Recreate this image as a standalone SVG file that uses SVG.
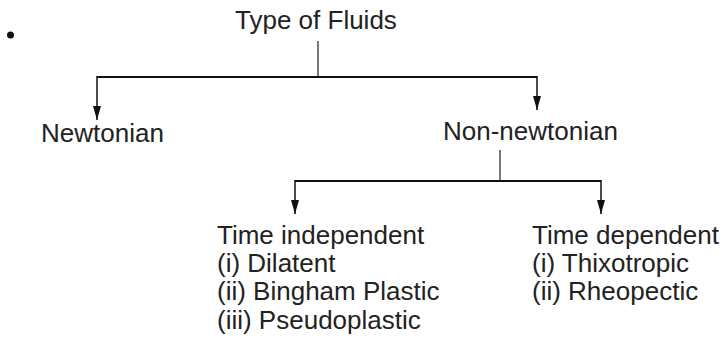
<svg xmlns="http://www.w3.org/2000/svg" width="728" height="345" viewBox="0 0 728 345">
<style>
.t{font-family:"Liberation Sans",Arial,sans-serif;font-size:26px;fill:#222}
.bar{stroke:#111;stroke-width:2;fill:none}
.stem{stroke:#333;stroke-width:1.3;fill:none}
.drop{stroke:#111;stroke-width:1.5;fill:none}
</style>
<defs>
<marker id="ah" viewBox="0 0 14 8" refX="14" refY="4" markerWidth="14" markerHeight="8" markerUnits="userSpaceOnUse" orient="auto">
<path d="M0,0 L14,4 L0,8 z" fill="#111"/>
</marker>
</defs>
<rect width="728" height="345" fill="#fff"/>
<circle cx="10.5" cy="35" r="3.5" fill="#111"/>
<g id="connectors">
<line class="stem" x1="318" y1="41" x2="318" y2="77"/>
<line class="bar" x1="97" y1="77" x2="537" y2="77"/>
<line class="drop" x1="97" y1="76" x2="97" y2="120" marker-end="url(#ah)"/>
<line class="drop" x1="537" y1="76" x2="537" y2="110" marker-end="url(#ah)"/>
<line class="stem" x1="500" y1="150" x2="500" y2="181"/>
<line class="bar" x1="295" y1="181" x2="601" y2="181"/>
<line class="drop" x1="295" y1="180" x2="295" y2="214" marker-end="url(#ah)"/>
<line class="drop" x1="601" y1="180" x2="601" y2="214" marker-end="url(#ah)"/>
</g>
<g id="root"><text class="t" x="235" y="29">Type of Fluids</text></g>
<g id="newtonian"><text class="t" x="41" y="142">Newtonian</text></g>
<g id="non-newtonian"><text class="t" x="443" y="140">Non-newtonian</text></g>
<g id="time-independent">
<text class="t" x="217" y="244">Time independent</text>
<text class="t" x="217" y="272">(i) Dilatent</text>
<text class="t" x="217" y="300">(ii) Bingham Plastic</text>
<text class="t" x="217" y="329">(iii) Pseudoplastic</text>
</g>
<g id="time-dependent">
<text class="t" x="532" y="244">Time dependent</text>
<text class="t" x="532" y="272">(i) Thixotropic</text>
<text class="t" x="532" y="300">(ii) Rheopectic</text>
</g>
</svg>
